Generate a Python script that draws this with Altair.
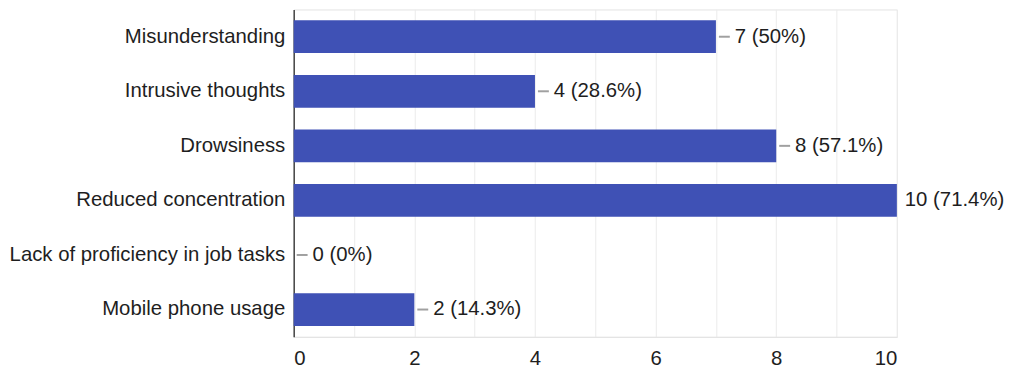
import altair as alt
import pandas as pd

categories = [
    "Misunderstanding",
    "Intrusive thoughts",
    "Drowsiness",
    "Reduced concentration",
    "Lack of proficiency in job tasks",
    "Mobile phone usage",
]
counts = [7, 4, 8, 10, 0, 2]
value_labels = ["7 (50%)", "4 (28.6%)", "8 (57.1%)", "10 (71.4%)", "0 (0%)", "2 (14.3%)"]
x_ticks = [0, 1, 2, 3, 4, 5, 6, 7, 8, 9, 10]
x_max = 10

df = pd.DataFrame({"category": categories, "count": counts, "label": value_labels})

FONT = "Liberation Sans"
TXT = "#1e1e1e"
FS = 20.5

y_enc = alt.Y(
    "category:N",
    sort=categories,
    title=None,
    scale=alt.Scale(paddingInner=0.4, paddingOuter=0.2),
    axis=alt.Axis(
        labelFontSize=FS,
        labelFont=FONT,
        labelColor=TXT,
        labelPadding=9,
        ticks=False,
        domainColor="#444444",
        domainWidth=1.5,
        grid=False,
        labelLimit=400,
    ),
)
x_enc = alt.X(
    "count:Q",
    title=None,
    scale=alt.Scale(domain=[0, x_max], nice=False),
    axis=alt.Axis(
        values=x_ticks,
        labelExpr="datum.value % 2 == 0 ? datum.label : ''",
        grid=True,
        gridColor="#ebebeb",
        gridWidth=1,
        ticks=False,
        domainColor="#e3e3e3",
        labelFontSize=FS,
        labelFont=FONT,
        labelColor=TXT,
        labelPadding=12,
    ),
)

base = alt.Chart(df).encode(y=y_enc)

bars = base.mark_bar(color="#3f51b5").encode(x=x_enc)

connectors = (
    base.transform_filter(f"datum.count < {x_max}")
    .mark_rule(color="#a0a0a0", strokeWidth=2, xOffset=3, x2Offset=14)
    .encode(x=x_enc, x2=alt.X2("count:Q"))
)

texts = (
    base.transform_filter(f"datum.count < {x_max}")
    .mark_text(align="left", baseline="middle", dx=19, fontSize=FS, font=FONT, color=TXT)
    .encode(x=x_enc, text="label:N")
)

texts_max = (
    base.transform_filter(f"datum.count >= {x_max}")
    .mark_text(align="left", baseline="middle", dx=8, fontSize=FS, font=FONT, color=TXT)
    .encode(x=x_enc, text="label:N")
)

chart = (
    alt.layer(bars, connectors, texts, texts_max)
    .properties(width=608, height=330, padding={"left": 0, "top": 0, "right": 0, "bottom": 0})
    .configure_view(stroke="#e3e3e3")
)

chart.save("out.html", embed_options={"renderer": "svg", "actions": False})
